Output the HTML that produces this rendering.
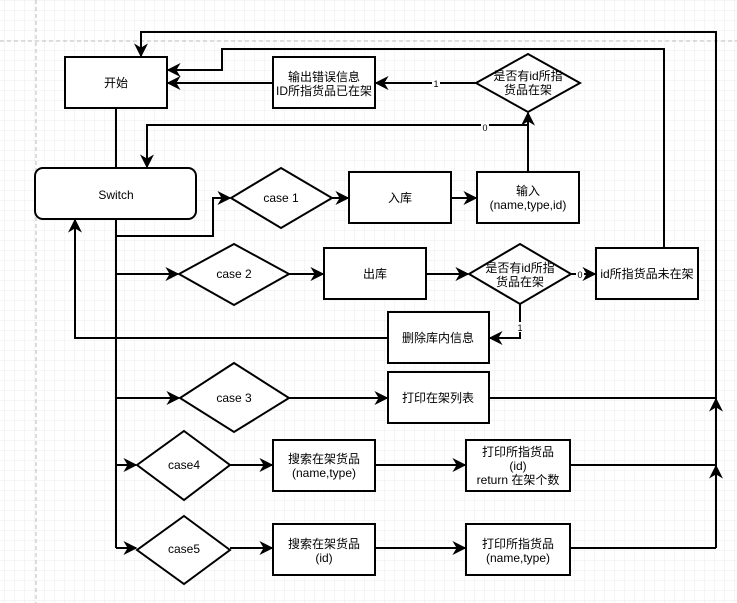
<!DOCTYPE html>
<html><head><meta charset="utf-8"><style>
html,body{margin:0;padding:0;background:#fff;}
svg{display:block;font-family:"Liberation Sans","Noto Sans CJK SC",sans-serif;}
</style></head><body>
<svg width="737" height="603" viewBox="0 0 737 603" xmlns="http://www.w3.org/2000/svg">
<defs>
<pattern id="g" width="10" height="10" patternUnits="userSpaceOnUse" x="5" y="1">
<path d="M10 0V10M0 10H10" fill="none" stroke="#ebebeb" stroke-width="1"/>
</pattern>
<marker id="a" viewBox="0 0 10 10" refX="9" refY="5" markerWidth="7" markerHeight="7" orient="auto-start-reverse">
<path d="M0 0L10 5L0 10L3 5Z" fill="#000"/>
</marker>
</defs>
<rect width="737" height="603" fill="url(#g)"/>
<line x1="0" y1="41" x2="737" y2="41" stroke="#bbb" stroke-dasharray="4,3"/>
<line x1="36" y1="0" x2="36" y2="603" stroke="#bbb" stroke-dasharray="4,3"/>
<g fill="none" stroke="#000" stroke-width="2">
<!-- top loops -->
<polyline points="716,548 716,32 141,32 141,56" marker-end="url(#a)"/>
<polyline points="664,248 664,49 222,49 222,70 168,70" marker-end="url(#a)"/>
<line x1="273" y1="83" x2="168" y2="83" marker-end="url(#a)"/>
<line x1="476" y1="83" x2="376" y2="83" marker-end="url(#a)"/>
<polyline points="528,125 147,125 147,167" marker-end="url(#a)"/>
<line x1="528" y1="172" x2="528" y2="113" marker-end="url(#a)"/>
<line x1="116" y1="108" x2="116" y2="168"/>
<line x1="116" y1="219" x2="116" y2="548"/>
<polyline points="116,236 213,236 213,198 230,198" marker-end="url(#a)"/>
<line x1="332" y1="198" x2="348" y2="198" marker-end="url(#a)"/>
<line x1="451" y1="198" x2="476" y2="198" marker-end="url(#a)"/>
<line x1="116" y1="274" x2="178" y2="274" marker-end="url(#a)"/>
<line x1="289" y1="274" x2="323" y2="274" marker-end="url(#a)"/>
<line x1="426" y1="274" x2="468" y2="274" marker-end="url(#a)"/>
<line x1="571" y1="274" x2="595" y2="274" marker-end="url(#a)"/>
<polyline points="520,304 520,338 490,338" marker-end="url(#a)"/>
<polyline points="388,338 75,338 75,220" marker-end="url(#a)"/>
<line x1="116" y1="398" x2="179" y2="398" marker-end="url(#a)"/>
<line x1="289" y1="398" x2="387" y2="398" marker-end="url(#a)"/>
<line x1="489" y1="398" x2="716" y2="398"/>
<line x1="716" y1="420" x2="716" y2="399" marker-end="url(#a)"/>
<line x1="116" y1="465" x2="136" y2="465" marker-end="url(#a)"/>
<line x1="230" y1="465" x2="272" y2="465" marker-end="url(#a)"/>
<line x1="375" y1="465" x2="465" y2="465" marker-end="url(#a)"/>
<line x1="570" y1="465" x2="716" y2="465"/>
<line x1="716" y1="485" x2="716" y2="466" marker-end="url(#a)"/>
<line x1="116" y1="548" x2="136" y2="548" marker-end="url(#a)"/>
<line x1="230" y1="548" x2="272" y2="548" marker-end="url(#a)"/>
<line x1="375" y1="548" x2="465" y2="548" marker-end="url(#a)"/>
<line x1="570" y1="548" x2="716" y2="548"/>
</g>
<g fill="#fff" stroke="#000" stroke-width="2">
<rect x="65" y="57" width="102" height="51"/>
<rect x="273" y="57" width="102" height="51"/>
<polygon points="528,54 580,83 528,112 476,83"/>
<rect x="35" y="168" width="161" height="51" rx="8"/>
<polygon points="281,168 332,198 281,228 231,198"/>
<rect x="349" y="172" width="102" height="51"/>
<rect x="477" y="172" width="102" height="51"/>
<polygon points="234,244 289,274 234,305 179,274"/>
<rect x="324" y="248" width="102" height="51"/>
<polygon points="520,244 571,274 520,304 469,274"/>
<rect x="596" y="248" width="102" height="51"/>
<rect x="388" y="312" width="101" height="51"/>
<polygon points="234,363 289,398 234,432 180,398"/>
<rect x="388" y="372" width="101" height="51"/>
<polygon points="184,431 230,465 184,500 137,465"/>
<rect x="273" y="440" width="102" height="51"/>
<rect x="466" y="440" width="104" height="51"/>
<polygon points="184,516 230,550 184,584 137,550"/>
<rect x="273" y="524" width="102" height="51"/>
<rect x="466" y="524" width="104" height="51"/>
</g>
<g font-size="12" fill="#000" text-anchor="middle">
<text x="116" y="87">开始</text>
<text x="324" y="81">输出错误信息</text>
<text x="324" y="95">ID所指货品已在架</text>
<text x="528" y="80">是否有id所指</text>
<text x="528" y="94">货品在架</text>
<text x="116" y="199">Switch</text>
<text x="281" y="202">case 1</text>
<text x="400" y="202">入库</text>
<text x="528" y="195">输入</text>
<text x="528" y="209">(name,type,id)</text>
<text x="234" y="278">case 2</text>
<text x="375" y="278">出库</text>
<text x="520" y="272">是否有id所指</text>
<text x="520" y="286">货品在架</text>
<text x="647" y="278">id所指货品未在架</text>
<text x="438" y="342">删除库内信息</text>
<text x="234" y="402">case 3</text>
<text x="438" y="402">打印在架列表</text>
<text x="184" y="469">case4</text>
<text x="324" y="463">搜索在架货品</text>
<text x="324" y="477">(name,type)</text>
<text x="518" y="456">打印所指货品</text>
<text x="518" y="470">(id)</text>
<text x="518" y="484">return 在架个数</text>
<text x="184" y="553">case5</text>
<text x="324" y="548">搜索在架货品</text>
<text x="324" y="562">(id)</text>
<text x="518" y="548">打印所指货品</text>
<text x="518" y="562">(name,type)</text>
</g>
<g font-size="9" fill="#000" text-anchor="middle">
<rect x="432" y="78" width="8" height="10" fill="#fff"/><text x="436" y="87">1</text>
<rect x="481" y="122" width="8" height="10" fill="#fff"/><text x="485" y="131">0</text>
<rect x="576" y="269" width="8" height="10" fill="#fff"/><text x="580" y="278">0</text>
<rect x="516" y="322" width="8" height="10" fill="#fff"/><text x="520" y="331">1</text>
</g>
</svg>
</body></html>
